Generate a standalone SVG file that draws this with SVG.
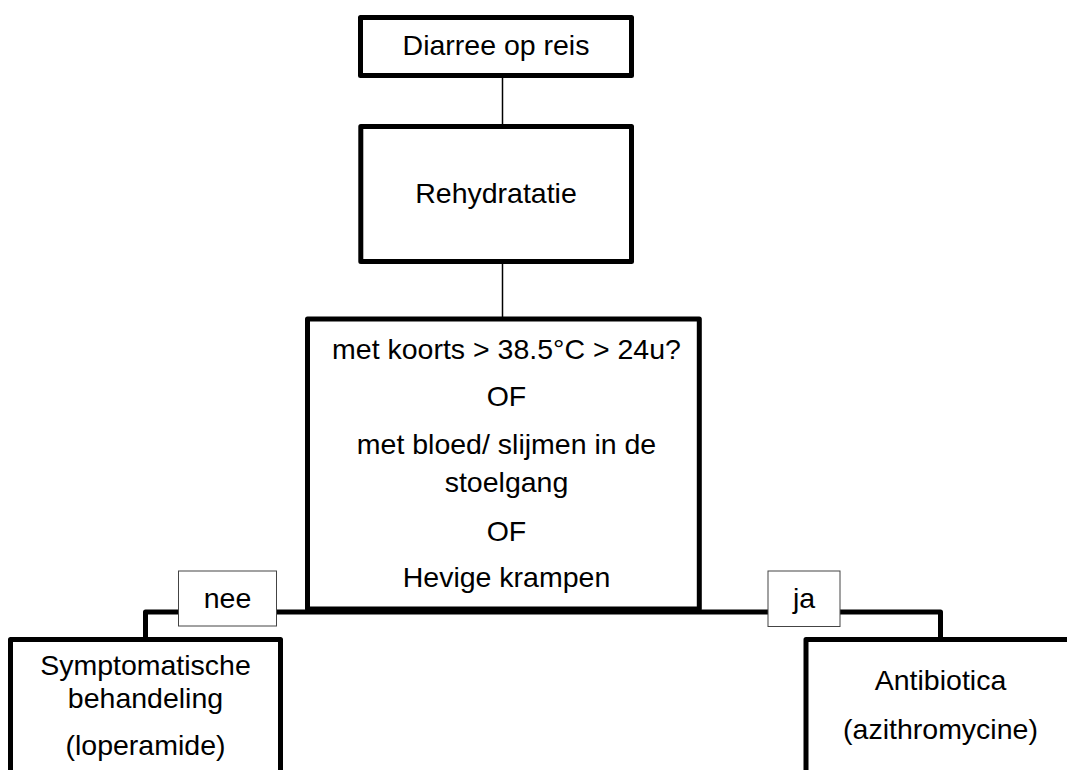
<svg xmlns="http://www.w3.org/2000/svg" width="1067" height="770" viewBox="0 0 1067 770">
<style>
.box{fill:#fff;stroke:#000;stroke-width:5;stroke-linejoin:round}
.lbl{fill:#fff;stroke:#444;stroke-width:1}
.thin{stroke:#000;stroke-width:1.5;fill:none}
.thick{stroke:#000;stroke-width:5;fill:none;stroke-linejoin:round}
text{font-family:"Liberation Sans",Arial,sans-serif;font-size:28.5px;fill:#000;text-anchor:middle}
</style>
<rect width="1067" height="770" fill="#fff"/>
<g id="connectors">
<line class="thin" x1="502.5" y1="77" x2="502.5" y2="125"/>
<line class="thin" x1="502.5" y1="263" x2="502.5" y2="318"/>
<path class="thick" d="M145.5,638 V612 H940.5 V638"/>
</g>
<g id="n1"><rect class="box" x="360.5" y="17.5" width="271" height="58"/><text x="496" y="55">Diarree op reis</text></g>
<g id="n2"><rect class="box" x="360.8" y="126.5" width="270.7" height="135"/><text x="496" y="202.7">Rehydratatie</text></g>
<g id="n3"><rect class="box" x="307.5" y="319" width="391.8" height="290"/>
<text x="506.5" y="359.3">met koorts &gt; 38.5°C &gt; 24u?</text>
<text x="506.5" y="406">OF</text>
<text x="506.5" y="454">met bloed/ slijmen in de</text>
<text x="506.5" y="491.7">stoelgang</text>
<text x="506.5" y="540.7">OF</text>
<text x="506.5" y="586.7">Hevige krampen</text>
</g>
<g id="lbl-nee"><rect class="lbl" x="178.5" y="571" width="98" height="55"/><text x="227.5" y="607.7">nee</text></g>
<g id="lbl-ja"><rect class="lbl" x="768" y="571" width="72" height="55.5"/><text x="804" y="607.7">ja</text></g>
<g id="n4"><rect class="box" x="10.5" y="639.5" width="270" height="200"/>
<text x="145.5" y="675">Symptomatische</text>
<text x="145.5" y="708.3">behandeling</text>
<text x="145.5" y="755">(loperamide)</text>
</g>
<g id="n5"><rect class="box" x="806" y="639.5" width="300" height="200"/>
<text x="940.5" y="690">Antibiotica</text>
<text x="940.5" y="739.3">(azithromycine)</text>
</g>
</svg>
